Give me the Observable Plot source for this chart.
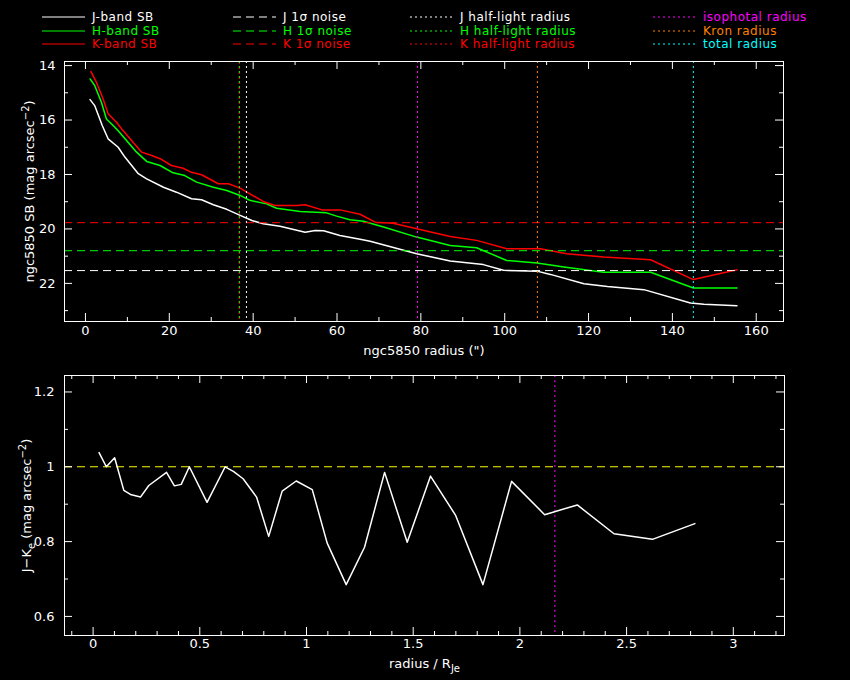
<!DOCTYPE html>
<html>
<head>
<meta charset="utf-8">
<script src="https://cdn.jsdelivr.net/npm/d3@7"></script>
<script src="https://cdn.jsdelivr.net/npm/@observablehq/plot@0.6"></script>
<style>
  body { margin: 0; background: #000; }
  #chart { width: 850px; height: 680px; background: #000; }
  #chart svg { display: block; }
</style>
</head>
<body>
<div id="chart"></div>
<script>
// ngc5850 surface brightness profiles

const jRadius = [1.1, 2.2, 4.0, 5.4, 7.8, 9.4, 12.6, 14.6, 18.6, 21.7, 25.3, 27.7, 30.5, 33.7, 36.9, 39.7, 42.4, 46.4, 52.4, 54.8, 56.8, 60.7, 65.5, 67.9, 79.0, 87.0, 94.9, 99.7, 107.7, 110.9, 118.9, 124.5, 133.2, 144.3, 147.5, 155.4]
const jSB = [15.25, 15.47, 16.20, 16.69, 17.00, 17.36, 17.97, 18.16, 18.47, 18.65, 18.89, 18.93, 19.11, 19.28, 19.50, 19.69, 19.81, 19.90, 20.12, 20.06, 20.07, 20.24, 20.38, 20.45, 20.91, 21.18, 21.31, 21.52, 21.55, 21.67, 22.01, 22.11, 22.23, 22.72, 22.77, 22.82]

const hRadius = [1.1, 2.2, 3.8, 5.0, 6.6, 7.8, 12.2, 14.6, 17.8, 20.9, 23.7, 26.5, 30.5, 33.7, 36.9, 39.2, 43.2, 45.6, 51.2, 57.5, 59.9, 63.1, 66.3, 71.1, 79.0, 87.0, 93.3, 100.5, 107.7, 114.1, 123.6, 134.8, 145.0, 155.4]
const hSB = [14.49, 14.73, 15.35, 15.96, 16.20, 16.39, 17.18, 17.52, 17.67, 17.94, 18.04, 18.28, 18.47, 18.59, 18.77, 18.95, 19.08, 19.24, 19.36, 19.41, 19.53, 19.66, 19.72, 19.93, 20.30, 20.61, 20.69, 21.16, 21.25, 21.40, 21.59, 21.59, 22.17, 22.17]

const kRadius = [1.3, 2.6, 4.2, 5.4, 7.4, 8.6, 13.4, 15.8, 17.8, 20.5, 23.3, 25.3, 27.7, 31.7, 34.1, 36.9, 39.2, 42.4, 45.2, 50.4, 52.4, 56.4, 60.7, 65.5, 69.1, 73.4, 79.0, 87.0, 93.3, 100.5, 108.5, 114.8, 123.6, 134.8, 145.0, 155.4]
const kSB = [14.22, 14.61, 15.22, 15.77, 16.08, 16.32, 17.18, 17.30, 17.42, 17.67, 17.77, 17.92, 18.01, 18.34, 18.34, 18.50, 18.71, 18.99, 19.14, 19.14, 19.11, 19.30, 19.30, 19.46, 19.75, 19.79, 19.99, 20.28, 20.42, 20.73, 20.73, 20.91, 21.03, 21.13, 21.86, 21.50]

// 1 sigma noise levels
const jNoise = 21.53
const hNoise = 20.80
const kNoise = 19.77

// radii ('')
const jHalfLight = 38.4
const hHalfLight = 36.7
const kHalfLight = 36.7
const isoRadius = 79.2
const kronRadius = 107.8
const totalRadius = 145.0
const rJe = 36.6

// J-K colour profile vs radius / R_Je
const jkRadius = [0.028, 0.062, 0.101, 0.144, 0.175, 0.222, 0.261, 0.344, 0.381, 0.413, 0.451, 0.534, 0.619, 0.659, 0.703, 0.766, 0.823, 0.886, 0.952, 1.027, 1.097, 1.186, 1.272, 1.366, 1.472, 1.581, 1.699, 1.827, 1.961, 2.116, 2.269, 2.441, 2.621, 2.820]
const jkColour = [1.038, 1.000, 1.024, 0.937, 0.926, 0.919, 0.950, 0.985, 0.949, 0.953, 1.000, 0.905, 1.000, 0.987, 0.968, 0.919, 0.814, 0.935, 0.962, 0.939, 0.796, 0.685, 0.785, 0.985, 0.798, 0.975, 0.870, 0.685, 0.961, 0.872, 0.898, 0.821, 0.806, 0.848]
const jkRef = 1.0

// ticks
const topXMajor = [0, 20, 40, 60, 80, 100, 120, 140, 160]
const topXMinor = [10, 30, 50, 70, 90, 110, 130, 150]
const topYMajor = [14, 16, 18, 20, 22]
const topYMinor = [15, 17, 19, 21, 23]
const botXMajor = [0, 0.5, 1, 1.5, 2, 2.5, 3]
const botXMinor = d3.range(-1, 33).filter(i => i % 5 != 0).map(i => i / 10)
const botYMajor = [0.6, 0.8, 1.0, 1.2]
const botYMinor = [0.7, 0.9, 1.1]

const WHITE = "#ffffff", GREEN = "#00ff00", RED = "#ff0000"
const MAGENTA = "#ff00ff", ORANGE = "#ff8000", CYAN = "#00ffff", YELLOW = "#ffff00"
const FONT = "'DejaVu Sans', sans-serif"
const DASH = "8,5"
const DOT = "2,3"

const profile = (r, sb) => r.map((d, i) => ({r: d, sb: sb[i]}))

// ticks pointing inwards on all four sides, like the original
function boxTicks(xs, ys, len, w, h) {
  return [
    Plot.ruleX(xs, {stroke: WHITE, insetTop: h - len}),
    Plot.ruleX(xs, {stroke: WHITE, insetBottom: h - len}),
    Plot.ruleY(ys, {stroke: WHITE, insetRight: w - len}),
    Plot.ruleY(ys, {stroke: WHITE, insetLeft: w - len})
  ]
}

const W = 850

// ---- legend ----
const legendCols = [
  [["J-band SB", WHITE, null], ["H-band SB", GREEN, null], ["K-band SB", RED, null]],
  [["J 1σ noise", WHITE, DASH], ["H 1σ noise", GREEN, DASH], ["K 1σ noise", RED, DASH]],
  [["J half-light radius", WHITE, DOT], ["H half-light radius", GREEN, DOT], ["K half-light radius", RED, DOT]],
  [["isophotal radius", MAGENTA, DOT], ["Kron radius", ORANGE, DOT], ["total radius", CYAN, DOT]]
]
const legendX = [42, 233, 410, 653]
const legendY = [17, 31, 44]

const legend = d3.create("svg").attr("width", W).attr("height", 55)
  .style("background", "#000")
legendCols.forEach((col, c) => {
  col.forEach(([label, color, dash], r) => {
    const g = legend.append("g").attr("transform", `translate(${legendX[c]},${legendY[r]})`)
    g.append("line").attr("x1", 0).attr("x2", 43).attr("stroke", color)
      .attr("stroke-dasharray", dash)
    g.append("text").attr("x", 50).attr("dy", "0.35em").attr("fill", color)
      .style("font", `12px ${FONT}`).style("letter-spacing", "0.5px").text(label)
  })
})

// ---- top panel: surface brightness ----
const topH = 315, topMT = 6, topMB = 49, topML = 64, topMR = 67
const topInnerW = W - topML - topMR, topInnerH = topH - topMT - topMB

const sbPanel = Plot.plot({
  width: W,
  height: topH,
  marginTop: topMT,
  marginBottom: topMB,
  marginLeft: topML,
  marginRight: topMR,
  style: {background: "#000", color: WHITE, fontFamily: FONT, fontSize: "13px"},
  x: {domain: [-5, 166.5], axis: null},
  y: {domain: [13.85, 23.4], reverse: true, axis: null},
  marks: [
    Plot.line(profile(jRadius, jSB), {x: "r", y: "sb", stroke: WHITE}),
    Plot.line(profile(hRadius, hSB), {x: "r", y: "sb", stroke: GREEN}),
    Plot.line(profile(kRadius, kSB), {x: "r", y: "sb", stroke: RED}),
    Plot.ruleY([jNoise], {stroke: WHITE, strokeDasharray: DASH}),
    Plot.ruleY([hNoise], {stroke: GREEN, strokeDasharray: DASH}),
    Plot.ruleY([kNoise], {stroke: RED, strokeDasharray: DASH}),
    Plot.ruleX([kHalfLight], {stroke: RED, strokeDasharray: "3,2"}),
    Plot.ruleX([hHalfLight], {stroke: GREEN, strokeDasharray: "2,3"}),
    Plot.ruleX([jHalfLight], {stroke: WHITE, strokeDasharray: DOT}),
    Plot.ruleX([isoRadius], {stroke: MAGENTA, strokeDasharray: DOT}),
    Plot.ruleX([kronRadius], {stroke: ORANGE, strokeDasharray: DOT}),
    Plot.ruleX([totalRadius], {stroke: CYAN, strokeDasharray: DOT}),
    Plot.frame({stroke: WHITE}),
    ...boxTicks(topXMajor, topYMajor, 8, topInnerW, topInnerH),
    ...boxTicks(topXMinor, topYMinor, 4, topInnerW, topInnerH),
    Plot.text(topXMajor, {x: d => d, frameAnchor: "bottom", dy: 13, text: d => String(d), fill: WHITE}),
    Plot.text(topYMajor, {y: d => d, frameAnchor: "left", dx: -9, textAnchor: "end", text: d => String(d), fill: WHITE}),
    Plot.text(["ngc5850 radius (\")"], {frameAnchor: "bottom", dy: 33, fill: WHITE}),
    Plot.text(["TOPYLABEL"], {frameAnchor: "left", dx: -35, rotate: -90, textAnchor: "middle", fill: WHITE})
  ]
})

// ---- bottom panel: J-K colour ----
const botH = 310, botMT = 5, botMB = 45, botML = 64, botMR = 66
const botInnerW = W - botML - botMR, botInnerH = botH - botMT - botMB

const colourPanel = Plot.plot({
  width: W,
  height: botH,
  marginTop: botMT,
  marginBottom: botMB,
  marginLeft: botML,
  marginRight: botMR,
  style: {background: "#000", color: WHITE, fontFamily: FONT, fontSize: "13px"},
  x: {domain: [-0.134, 3.24], axis: null},
  y: {domain: [0.549, 1.244], axis: null},
  marks: [
    Plot.ruleY([jkRef], {stroke: YELLOW, strokeDasharray: DASH}),
    Plot.ruleX([isoRadius / rJe], {stroke: MAGENTA, strokeDasharray: DOT}),
    Plot.line(jkRadius.map((d, i) => ({r: d, c: jkColour[i]})), {x: "r", y: "c", stroke: WHITE}),
    Plot.frame({stroke: WHITE}),
    ...boxTicks(botXMajor, botYMajor, 8, botInnerW, botInnerH),
    ...boxTicks(botXMinor, botYMinor, 4, botInnerW, botInnerH),
    Plot.text(botXMajor, {x: d => d, frameAnchor: "bottom", dy: 12, text: d => String(d), fill: WHITE}),
    Plot.text(botYMajor, {y: d => d, frameAnchor: "left", dx: -10, textAnchor: "end", text: d => String(d), fill: WHITE}),
    Plot.text(["BOTXLABEL"], {frameAnchor: "bottom", dy: 32, fill: WHITE}),
    Plot.text(["BOTYLABEL"], {frameAnchor: "left", dx: -38, rotate: -90, textAnchor: "middle", fill: WHITE})
  ]
})

// labels with super/subscripts
const richLabels = {
  TOPYLABEL: 'ngc5850 SB (mag arcsec<tspan dy="-5" font-size="10">−2</tspan><tspan dy="5">)</tspan>',
  BOTYLABEL: 'J−K<tspan dy="4" font-size="10">e</tspan><tspan dy="-4"> (mag arcsec</tspan><tspan dy="-5" font-size="10">−2</tspan><tspan dy="5">)</tspan>',
  BOTXLABEL: 'radius / R<tspan dy="4" font-size="10">Je</tspan>'
}
for (const svg of [sbPanel, colourPanel]) {
  d3.select(svg).selectAll("text").each(function() {
    const key = this.textContent.trim()
    if (richLabels[key]) this.innerHTML = richLabels[key]
  })
}

const chart = d3.select("#chart")
chart.append(() => legend.node())
chart.append(() => sbPanel)
chart.append(() => colourPanel)
</script>
</body>
</html>
